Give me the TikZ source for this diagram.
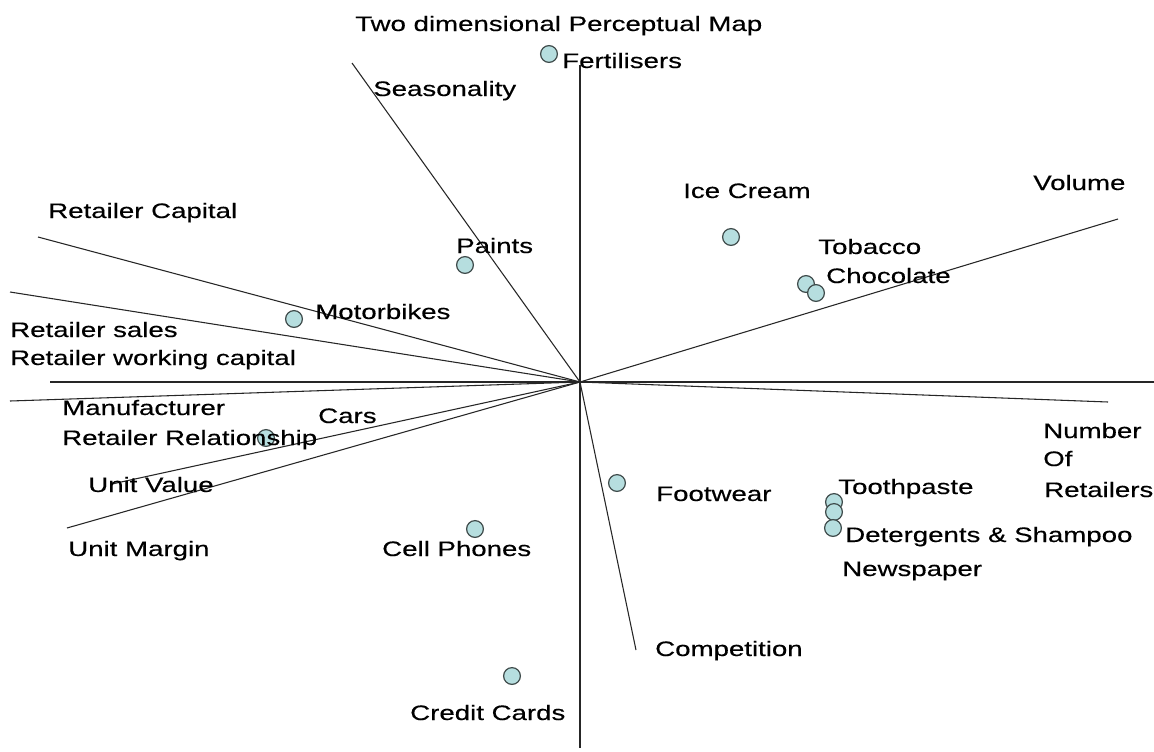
\documentclass[tikz,border=0pt]{standalone}
\usepackage{fontspec}
\setmainfont[FakeStretch=1.32,FakeBold=0.35]{Liberation Sans}
\definecolor{dotfill}{HTML}{B6DEDF}
\definecolor{dotline}{HTML}{3F4B4B}
\begin{document}
\begin{tikzpicture}[x=0.75pt,y=-0.75pt,
  axisline/.style={draw=black!85,line width=0.8pt},
  dot/.style={circle,draw=dotline,fill=dotfill,line width=0.9pt,minimum size=12.6pt,inner sep=0pt},
  lbl/.style={anchor=base west,inner sep=0pt,font=\fontsize{15.7}{18}\selectfont,text=black}]
\useasboundingbox (0,0) rectangle (1154,751);
\fill[white] (0,0) rectangle (1154,751);
% axes coordinates
\coordinate (O) at (580,382);
\coordinate (vtop) at (580,65);
\coordinate (vbot) at (580,748);
\coordinate (hleft) at (50,382);
\coordinate (hright) at (1160,382);
\coordinate (seas) at (352,63);
\coordinate (rcap) at (38,237);
\coordinate (rsal) at (10,292);
\coordinate (manu) at (10,401);
\coordinate (uval) at (112,484);
\coordinate (umar) at (67,528);
\coordinate (vol) at (1118,219);
\coordinate (nret) at (1108,402);
\coordinate (comp) at (636,650);
% lines
\draw[axisline] (vtop) -- (vbot);
\draw[axisline] (hleft) -- (hright);
\foreach \e in {seas,rcap,rsal,manu,uval,umar,vol,nret,comp}
  \draw[axisline] (O) -- (\e);
% points
\node[dot] (fert) at (549,54) {};
\node[dot] (paint) at (465,265) {};
\node[dot] (motor) at (294,319) {};
\node[dot] (cars) at (266,438) {};
\node[dot] (cell) at (475,529) {};
\node[dot] (credit) at (512,676) {};
\node[dot] (foot) at (617,483) {};
\node[dot] (ice) at (731,237) {};
\node[dot] (tob) at (806,284) {};
\node[dot] (choc) at (816,293) {};
\node[dot] (tooth) at (834,502) {};
\node[dot] (deter) at (834,512) {};
\node[dot] (news) at (833,528) {};
% labels
\node[lbl] (title) at (355,31) {Two dimensional Perceptual Map};
\node[lbl] (tfert) at (562,68) {Fertilisers};
\node[lbl] (tseas) at (373,96) {Seasonality};
\node[lbl] (trcap) at (48,218) {Retailer Capital};
\node[lbl] (tice) at (683,198) {Ice Cream};
\node[lbl] (tvol) at (1033,190) {Volume};
\node[lbl] (ttob) at (818,254) {Tobacco};
\node[lbl] (tchoc) at (826,283) {Chocolate};
\node[lbl] (tpaint) at (456,253) {Paints};
\node[lbl] (tmotor) at (315,319) {Motorbikes};
\node[lbl] (trsal) at (10,337) {Retailer sales};
\node[lbl] (trwc) at (10,365) {Retailer working capital};
\node[lbl] (tmanu) at (62,415) {Manufacturer};
\node[lbl] (trrel) at (62,445) {Retailer Relationship};
\node[lbl] (tcars) at (318,423) {Cars};
\node[lbl] (tuval) at (88,492) {Unit Value};
\node[lbl] (tumar) at (68,556) {Unit Margin};
\node[lbl] (tcell) at (382,556) {Cell Phones};
\node[lbl] (tcredit) at (410,720) {Credit Cards};
\node[lbl] (tcomp) at (655,656) {Competition};
\node[lbl] (tfoot) at (656,501) {Footwear};
\node[lbl] (ttooth) at (838,494) {Toothpaste};
\node[lbl] (tdeter) at (845,542) {Detergents \& Shampoo};
\node[lbl] (tnews) at (842,576) {Newspaper};
\node[lbl] (tnum) at (1043,438) {Number};
\node[lbl] (tof) at (1043,466) {Of};
\node[lbl] (tret) at (1044,497) {Retailers};
\end{tikzpicture}
\end{document}
